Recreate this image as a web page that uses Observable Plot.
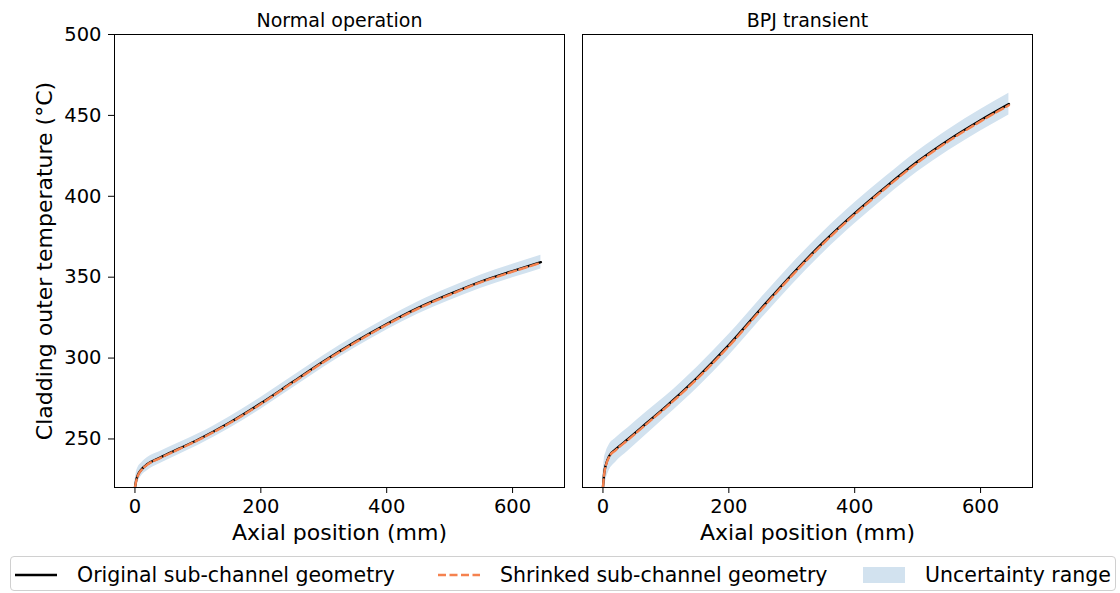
<!DOCTYPE html>
<html>
<head>
<meta charset="utf-8">
<script src="https://cdn.jsdelivr.net/npm/d3@7"></script>
<script src="https://cdn.jsdelivr.net/npm/@observablehq/plot@0.6"></script>
<style>
  body { margin: 0; background: #fff; font-family: "DejaVu Sans", sans-serif; }
  #wrap { position: relative; width: 1120px; height: 593px; }
  #legend { position: absolute; left: 10px; top: 556px; width: 1106px; height: 35px;
            border: 1px solid #d0d0d0; border-radius: 4px; box-sizing: border-box; }
  .item { position: absolute; top: 0; height: 35px; display: flex; align-items: center;
          font-size: 20.5px; color: #000; white-space: nowrap; }
  .item svg { margin-right: 20px; }
</style>
</head>
<body>
<div id="wrap"><div id="chart"></div><div id="legend"></div></div>
<script>
const panels = ["Normal operation", "BPJ transient"];
const xs = [0, 2, 5, 10, 20, 40, 70, 100, 150, 200, 250, 300, 350, 400, 450, 500, 550, 600, 645];

const normalOrig   = [220, 224.5, 228, 231, 234.5, 238.5, 244, 249.5, 260, 272, 285, 298, 310, 321, 331, 339.5, 347.3, 353.8, 359.3];
const normalShrink = [220, 224, 227.6, 230.7, 234.2, 238.2, 243.7, 249.2, 259.7, 271.6, 284.6, 297.6, 309.6, 320.6, 330.6, 339.1, 346.9, 353.4, 358.9];
const normalLo     = [216, 219.5, 223.5, 227, 230.5, 234.8, 240.4, 246, 256.4, 268.4, 281.4, 294.4, 306.4, 317.4, 327.2, 335.6, 343.2, 349.6, 355.1];
const normalHi     = [224, 229, 232.5, 235, 238.5, 242.3, 247.6, 253, 263.6, 275.6, 288.6, 301.6, 313.6, 324.6, 334.8, 343.4, 351.4, 358, 363.5];

const bpjOrig   = [220, 229, 234.5, 239.5, 243.5, 250, 260, 270, 288, 308, 330, 351.5, 371.5, 389.5, 406, 421.5, 435, 447, 457];
const bpjShrink = [220, 228.5, 234, 239, 243, 249.5, 259.5, 269.4, 287.3, 307.3, 329.3, 350.8, 370.8, 388.8, 405.3, 420.8, 434.3, 446.3, 456.3];
const bpjLo     = [212, 219, 225, 230.5, 235.5, 242.5, 253, 263.5, 281.5, 301.5, 323.5, 345, 365, 383, 399.6, 415.1, 428.5, 440.4, 450.3];
const bpjHi     = [228, 237, 242, 246.5, 250.5, 257, 267, 276.5, 294.5, 314.5, 336.5, 358, 378, 396, 412.4, 427.9, 441.5, 453.6, 463.7];

const xTicks = [0, 200, 400, 600];
const yTicks = [250, 300, 350, 400, 450, 500];
const xLabel = "Axial position (mm)";
const yLabel = "Cladding outer temperature (°C)";
const legendLabels = ["Original sub-channel geometry", "Shrinked sub-channel geometry", "Uncertainty range"];

const series = [
  {panel: panels[0], orig: normalOrig, shrink: normalShrink, lo: normalLo, hi: normalHi},
  {panel: panels[1], orig: bpjOrig, shrink: bpjShrink, lo: bpjLo, hi: bpjHi}
];
const rows = series.flatMap(s => xs.map((x, i) => ({
  panel: s.panel, x, orig: s.orig[i], shrink: s.shrink[i], lo: s.lo[i], hi: s.hi[i]
})));

const ORANGE = "#f5824f";
const BAND = "#d2e2ef";

const chart = Plot.plot({
  width: 1120,
  height: 545,
  marginLeft: 114,
  marginRight: 88,
  marginTop: 34,
  marginBottom: 58,
  style: {fontFamily: "DejaVu Sans", fontSize: "19.5px", color: "#000", background: "#fff"},
  x: {domain: [-32.5, 682.5]},
  y: {domain: [220, 500]},
  fx: {domain: panels, paddingInner: 18 / 468, paddingOuter: 0, label: null},
  marks: [
    Plot.areaY(rows, {fx: "panel", x: "x", y1: "lo", y2: "hi", fill: BAND, curve: "monotone-x", clip: true}),
    Plot.lineY(rows, {fx: "panel", x: "x", y: "orig", stroke: "#000", strokeWidth: 2.4, curve: "monotone-x", clip: true}),
    Plot.lineY(rows, {fx: "panel", x: "x", y: "shrink", stroke: ORANGE, strokeWidth: 2.4, strokeDasharray: "8,3.5", curve: "monotone-x", clip: true}),
    Plot.frame({stroke: "#000", strokeWidth: 1}),
    Plot.axisX({ticks: xTicks, tickSize: 6, tickPadding: 6, label: null, fontSize: 19.5}),
    Plot.axisY({ticks: yTicks, anchor: "left", tickSize: 6, tickPadding: 7, label: null, fontSize: 19.5}),
    Plot.axisFx({anchor: "top", tickSize: 0, tickPadding: 8, label: null, fontSize: 19}),
    Plot.text(panels, {fx: d => d, text: () => xLabel, frameAnchor: "bottom", lineAnchor: "middle", textAnchor: "middle", dy: 45, fontSize: 22}),
    Plot.text([panels[0]], {fx: d => d, text: () => yLabel, frameAnchor: "left", rotate: -90, textAnchor: "middle", lineAnchor: "middle", dx: -70, fontSize: 22})
  ]
});
document.getElementById("chart").appendChild(chart);

// Legend
const legend = document.getElementById("legend");
const items = [
  {left: 4, label: legendLabels[0], sym: `<svg width="42" height="12"><line x1="0" y1="6" x2="42" y2="6" stroke="#000" stroke-width="2.4"/></svg>`},
  {left: 427, label: legendLabels[1], sym: `<svg width="42" height="12"><line x1="0" y1="6" x2="42" y2="6" stroke="${ORANGE}" stroke-width="2.4" stroke-dasharray="8,3.5"/></svg>`},
  {left: 852, label: legendLabels[2], sym: `<svg width="42" height="16"><rect x="0" y="0" width="42" height="16" fill="${BAND}"/></svg>`}
];
for (const it of items) {
  const d = document.createElement("div");
  d.className = "item";
  d.style.left = it.left + "px";
  d.innerHTML = it.sym + `<span>${it.label}</span>`;
  legend.appendChild(d);
}
</script>
</body>
</html>
